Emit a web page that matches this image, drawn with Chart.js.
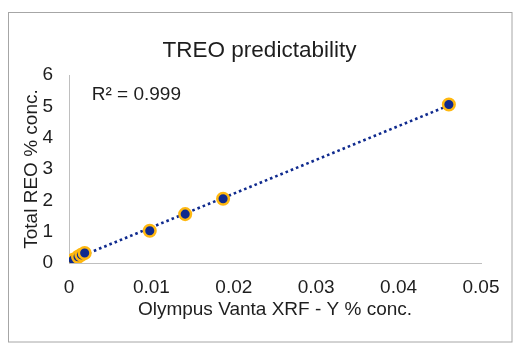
<!DOCTYPE html>
<html><head><meta charset="utf-8">
<script src="https://cdn.jsdelivr.net/npm/chart.js@4/dist/chart.umd.min.js"></script>
<style>html,body{margin:0;padding:0;background:#fff}#wrap{width:519px;height:353px}</style>
</head><body><div id="wrap"><canvas id="c" width="519" height="353"></canvas></div>
<script>
const chartTitle = 'TREO predictability';
const xAxisTitle = 'Olympus Vanta XRF - Y % conc.';
const yAxisTitle = 'Total REO % conc.';
const r2Label = 'R² = 0.999';
const xValues = [0.0005, 0.0011, 0.0015, 0.0019, 0.0098, 0.0141, 0.0187, 0.0461];
const yValues = [0.10, 0.20, 0.26, 0.32, 1.03, 1.56, 2.05, 5.06];
const xTicks = [0, 0.01, 0.02, 0.03, 0.04, 0.05];
const yTicks = [0, 1, 2, 3, 4, 5, 6];

const FONT = 'Liberation Sans, Arial, sans-serif';
const TXT = '#1e1e1e';
const NAVY = '#0f2a8e';
const ORANGE = '#ffb810';

const n = xValues.length;
const mx = xValues.reduce((a,b)=>a+b,0)/n, my = yValues.reduce((a,b)=>a+b,0)/n;
let sxy=0,sxx=0; for(let i=0;i<n;i++){sxy+=(xValues[i]-mx)*(yValues[i]-my);sxx+=(xValues[i]-mx)**2;}
const slope=sxy/sxx, icpt=my-slope*mx;
const xmin=Math.min(...xValues), xmax=Math.max(...xValues);
const trend=[{x:xmin,y:icpt+slope*xmin},{x:xmax,y:icpt+slope*xmax}];

const decor = {
  id:'decor',
  beforeDraw(ch){const c=ch.ctx;c.save();c.fillStyle='#fff';c.fillRect(0,0,ch.width,ch.height);
    c.strokeStyle='#a6a6a6';c.lineWidth=1;c.strokeRect(8.5,12.5,503.5,329.5);c.restore();},
  afterDraw(ch){const c=ch.ctx;c.save();c.fillStyle=TXT;c.textBaseline='alphabetic';
    c.font='22.5px '+FONT;c.textAlign='center';c.fillText(chartTitle,259.5,56.7);
    c.font='19px '+FONT;c.textAlign='left';c.fillText(r2Label,91.7,100);c.restore();}
};

new Chart(document.getElementById('c'),{
  type:'scatter',
  data:{datasets:[
    {type:'line',data:trend,borderColor:NAVY,borderWidth:2.6,borderDash:[2.6,3],pointRadius:0,fill:false,order:2},
    {data:xValues.map((x,i)=>({x,y:yValues[i]})),backgroundColor:NAVY,borderColor:ORANGE,borderWidth:2.5,pointRadius:5.8,order:1}
  ]},
  options:{
    responsive:false,animation:false,
    layout:{padding:{left:8,right:38,top:75,bottom:11}},
    plugins:{legend:{display:false},tooltip:{enabled:false}},
    scales:{
      x:{type:'linear',min:0,max:0.05,
        afterBuildTicks(s){s.ticks=xTicks.map(v=>({value:v}));},
        afterFit(s){s.height=79;},
        grid:{display:false,drawTicks:false},
        border:{color:'#bfbfbf',width:1},
        ticks:{color:TXT,font:{family:FONT,size:19},padding:13,maxRotation:0,autoSkip:false,callback:v=>String(v)},
        title:{display:true,text:xAxisTitle,color:TXT,font:{family:FONT,size:19},padding:{top:0,bottom:21}}},
      y:{type:'linear',min:0,max:6,
        afterBuildTicks(s){s.ticks=yTicks.map(v=>({value:v}));},
        afterFit(s){s.width=61;},
        grid:{display:false,drawTicks:false},
        border:{color:'#bfbfbf',width:1},
        ticks:{color:TXT,font:{family:FONT,size:19},padding:16,autoSkip:false,callback:v=>String(v)},
        title:{display:true,text:yAxisTitle,color:TXT,font:{family:FONT,size:19},padding:{top:12,bottom:0}}}
    }
  },
  plugins:[decor]
});
</script></body></html>
